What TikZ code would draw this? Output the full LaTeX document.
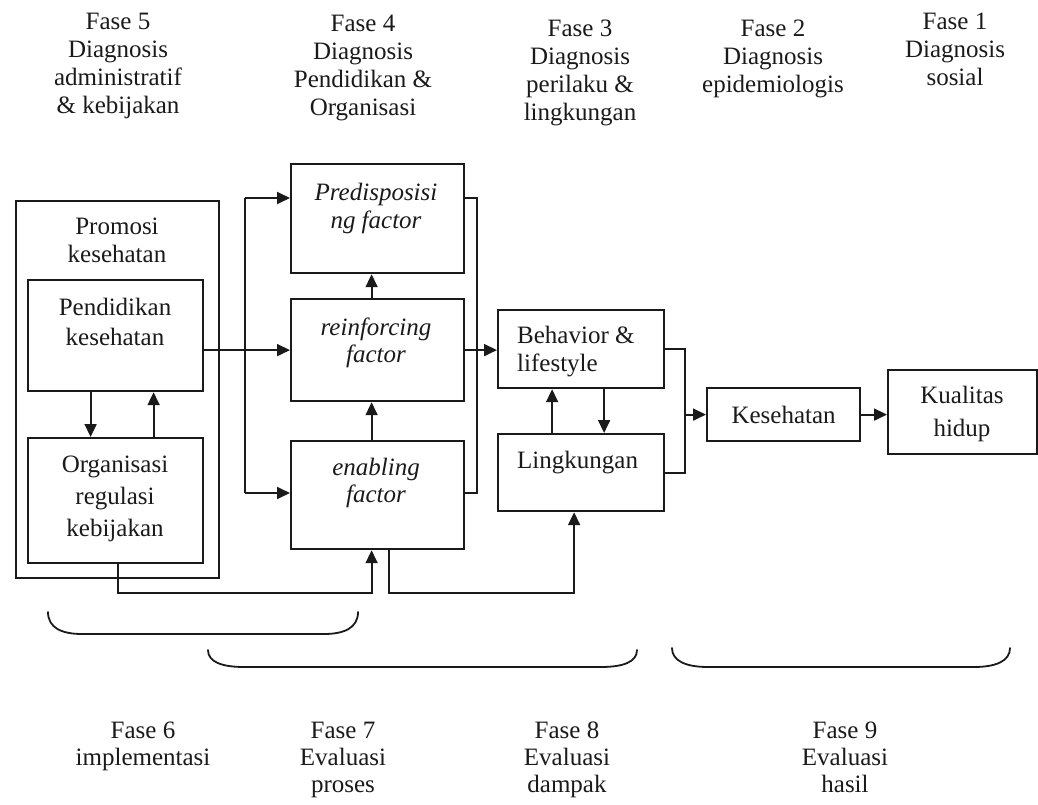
\documentclass[tikz,border=0pt]{standalone}
\usepackage{fontspec}
\setmainfont{Liberation Serif}
\usetikzlibrary{arrows.meta}
\definecolor{ink}{HTML}{1A1A1A}
\begin{document}
\begin{tikzpicture}[x=1pt,y=-1pt,
  every node/.style={text=ink},
  txt/.style={inner sep=0pt,align=center,font=\fontsize{25}{28}\selectfont},
  box/.style={draw=ink,line width=2.2pt,inner sep=0pt,anchor=north west},
  link/.style={draw=ink,line width=1.8pt},
  arr/.style={link,-{Triangle[length=13pt,width=12pt]}},
  brace/.style={draw=ink,line width=1.8pt,line cap=round}]
\useasboundingbox (0,0) rectangle (1038,805);

% phase headings (diagnosis)
\node[txt,anchor=north] (f5) at (118,13) {Fase 5\\Diagnosis\\administratif\\\& kebijakan};
\node[txt,anchor=north] (f4) at (363,15) {Fase 4\\Diagnosis\\Pendidikan \&\\Organisasi};
\node[txt,anchor=north] (f3) at (580,20) {Fase 3\\Diagnosis\\perilaku \&\\lingkungan};
\node[txt,anchor=north] (f2) at (773,20) {Fase 2\\Diagnosis\\epidemiologis};
\node[txt,anchor=north] (f1) at (955,13) {Fase 1\\Diagnosis\\sosial};

% boxes
\node[box,minimum width=203pt,minimum height=377pt] (promosi) at (15,200) {};
\node[box,minimum width=175pt,minimum height=111pt] (pend) at (27,279) {};
\node[box,minimum width=175pt,minimum height=125pt] (org) at (27,437) {};
\node[box,minimum width=173pt,minimum height=109pt] (predis) at (290,163) {};
\node[box,minimum width=173pt,minimum height=102pt] (reinf) at (290,298) {};
\node[box,minimum width=173pt,minimum height=108pt] (enab) at (290,440) {};
\node[box,minimum width=166pt,minimum height=78pt] (beh) at (497,309) {};
\node[box,minimum width=166pt,minimum height=77pt] (ling) at (497,433) {};
\node[box,minimum width=153pt,minimum height=53pt] (kes) at (706,387) {};
\node[box,minimum width=149pt,minimum height=84pt] (kual) at (887,369) {};

% box texts
\node[txt,anchor=north] (promosiT) at (117,218) {Promosi\\kesehatan};
\node[txt,anchor=north,font=\fontsize{25}{30}\selectfont] (pendT) at (115,298) {Pendidikan\\kesehatan};
\node[txt,anchor=north,font=\fontsize{25}{32}\selectfont] (orgT) at (115,456) {Organisasi\\regulasi\\kebijakan};
\node[txt,anchor=north,font=\fontsize{25}{28}\selectfont\itshape] (predisT) at (376,183) {Predisposisi\\ng factor};
\node[txt,anchor=north,font=\fontsize{25}{27}\selectfont\itshape] (reinfT) at (376,318) {reinforcing\\factor};
\node[txt,anchor=north,font=\fontsize{25}{27}\selectfont\itshape] (enabT) at (376,458) {enabling\\factor};
\node[txt,anchor=north west,align=left] (behT) at (517,326) {Behavior \&\\lifestyle};
\node[txt,anchor=north west,align=left] (lingT) at (517,451) {Lingkungan};
\node[txt] (kesT) at (kes.center) {Kesehatan};
\node[txt,anchor=north,font=\fontsize{25}{33}\selectfont] (kualT) at (962,386) {Kualitas\\hidup};

% helper coordinates for the routed lines
\coordinate (vt) at (245,198);
\coordinate (vb) at (245,493);
\coordinate (rb) at (477,0);
\coordinate (rb2) at (685,0);
\coordinate (botline) at (0,593);

% connectors
\draw[arr] (pend.east |- reinf.west) -- (reinf.west);
\draw[link] (vt) -- (vb);
\draw[arr] (vt) -- (vt -| predis.west);
\draw[arr] (vb) -- (vb -| enab.west);
\draw[arr] ([xshift=-6pt]reinf.north) -- ([xshift=-6pt]predis.south);
\draw[arr] ([xshift=-6pt]enab.north) -- ([xshift=-6pt]reinf.south);
\draw[arr] ([xshift=-25pt]pend.south) -- ([xshift=-25pt]org.north);
\draw[arr] ([xshift=38pt]org.north) -- ([xshift=38pt]pend.south);
\draw[arr] ([xshift=2pt]org.south) -- ([xshift=2pt]org.south |- botline) -| ([xshift=-6pt]enab.south);
\draw[arr] ([xshift=11pt]enab.south) -- ([xshift=11pt]enab.south |- botline) -| ([xshift=-7pt]ling.south);
\draw[link] (vt -| predis.east) -- (vt -| rb) -- (vb -| rb) -- (vb -| enab.east);
\draw[arr] (reinf.east) -- (reinf.east -| beh.west);
\draw[arr] ([xshift=-29pt]ling.north) -- ([xshift=-29pt]beh.south);
\draw[arr] ([xshift=23pt]beh.south) -- ([xshift=23pt]ling.north);
\draw[link] (beh.east) -- (beh.east -| rb2) -- (ling.east -| rb2) -- (ling.east);
\draw[arr] (kes.west -| rb2) -- (kes.west);
\draw[arr] (kes.east) -- (kes.east -| kual.west);

% brackets grouping the evaluation phases
\draw[brace] (48,612) .. controls (48,628) and (62,634) .. (82,634) -- (324,634) .. controls (344,634) and (358,628) .. (358,612);
\draw[brace] (208,650) .. controls (208,662) and (222,667) .. (244,667) -- (601,667) .. controls (623,667) and (637,662) .. (637,650);
\draw[brace] (672,648) .. controls (672,661) and (686,667) .. (708,667) -- (974,667) .. controls (996,667) and (1010,661) .. (1010,648);

% phase headings (evaluation)
\node[txt,anchor=north,font=\fontsize{25}{27}\selectfont] (f6) at (143,722) {Fase 6\\implementasi};
\node[txt,anchor=north,font=\fontsize{25}{27}\selectfont] (f7) at (343,722) {Fase 7\\Evaluasi\\proses};
\node[txt,anchor=north,font=\fontsize{25}{27}\selectfont] (f8) at (567,722) {Fase 8\\Evaluasi\\dampak};
\node[txt,anchor=north,font=\fontsize{25}{27}\selectfont] (f9) at (845,722) {Fase 9\\Evaluasi\\hasil};
\end{tikzpicture}
\end{document}
